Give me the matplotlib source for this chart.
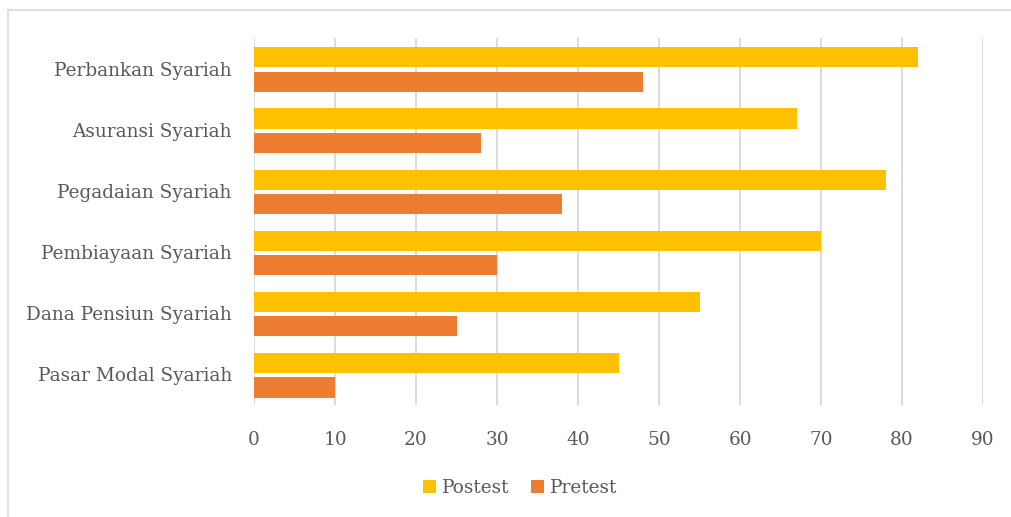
import matplotlib.pyplot as plt
import numpy as np
from matplotlib.patches import Rectangle

kategori = ["Pasar Modal Syariah", "Dana Pensiun Syariah", "Pembiayaan Syariah",
            "Pegadaian Syariah", "Asuransi Syariah", "Perbankan Syariah"]
postest = [45, 55, 70, 78, 67, 82]
pretest = [10, 25, 30, 38, 28, 48]
ticki = list(range(0, 100, 10))

plt.rcParams['font.family'] = ['DejaVu Serif']
szary = '#595959'

fig = plt.figure(figsize=(10.11, 5.17), dpi=100)
ax = fig.add_axes([254 / 1011, 1 - 405 / 517, (983 - 254) / 1011, (405 - 38) / 517])

y = np.arange(len(kategori))
wys = 0.33
ax.barh(y + 0.185, postest, height=wys, color='#FFC000', label='Postest', zorder=3)
ax.barh(y - 0.215, pretest, height=wys, color='#ED7D31', label='Pretest', zorder=3)

ax.set_xlim(0, 90)
ax.set_ylim(-0.5, len(kategori) - 0.5)
ax.set_xticks(ticki)
ax.set_yticks(y)
ax.set_yticklabels(kategori)
ax.tick_params(axis='both', length=0, colors=szary, labelsize=13.3)
ax.tick_params(axis='x', pad=19)
ax.tick_params(axis='y', pad=16)
ax.grid(axis='x', color='#D9D9D9', linewidth=1.3, zorder=0)
for s in ax.spines.values():
    s.set_visible(False)

leg = fig.legend(loc='center', bbox_to_anchor=(520 / 1011, 1 - 488 / 517), ncol=2,
                 frameon=False, fontsize=13.3, handlelength=0.7, handleheight=0.7,
                 handletextpad=0.3, columnspacing=1.2)
for t in leg.get_texts():
    t.set_color(szary)

fig.patches.append(Rectangle((8 / 1011, -0.01), 1.0, 1 - 10 / 517 + 0.01,
                             transform=fig.transFigure, fill=False,
                             edgecolor='#D9D9D9', linewidth=1.2))

fig.savefig('out.png', dpi=100)
